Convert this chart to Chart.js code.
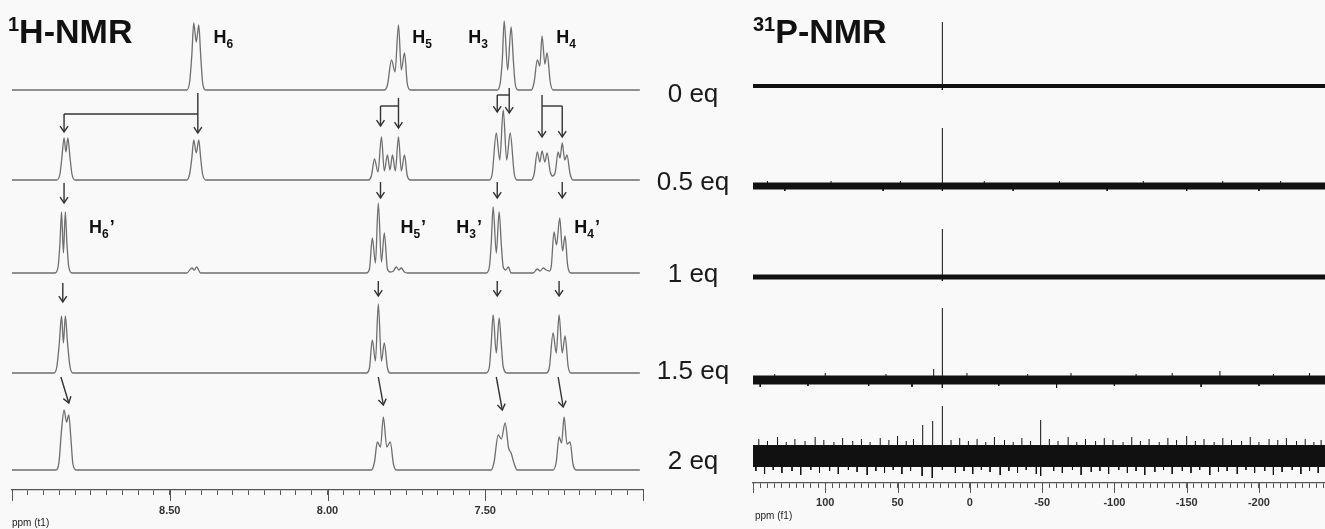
<!DOCTYPE html>
<html>
<head>
<meta charset="utf-8">
<script src="https://cdn.jsdelivr.net/npm/chart.js@4.4.1/dist/chart.umd.min.js"></script>
<style>
  html, body { margin: 0; padding: 0; background: #f9f9f9; overflow: hidden; }
  #wrap { position: relative; width: 1325px; height: 529px; overflow: hidden; }
  #hnmr { position: absolute; left: 0; top: 0; }
  #pnmr { position: absolute; left: 740px; top: 0; }
</style>
</head>
<body>
<div id="wrap">
  <canvas id="hnmr" width="740" height="529"></canvas>
  <canvas id="pnmr" width="592" height="529"></canvas>
</div>
<script>
// =========================
// DATA
// =========================
const eqLabels = ['0 eq', '0.5 eq', '1 eq', '1.5 eq', '2 eq'];
const hTickLabels = [8.5, 8.0, 7.5];
const pTickLabels = [100, 50, 0, -50, -100, -150, -200];

// 1H spectra, [ppm, intensity]
const h0eq = [
  [9.00, 0],
  [8.446, 0], [8.437, 8], [8.430, 35], [8.424, 67], [8.416, 48], [8.408, 65], [8.402, 35], [8.396, 8], [8.386, 0],
  [7.820, 0], [7.810, 5], [7.797, 30], [7.786, 18], [7.775, 65], [7.766, 20], [7.756, 37], [7.747, 6], [7.737, 0],
  [7.462, 0], [7.453, 6], [7.446, 30], [7.440, 69], [7.429, 20], [7.418, 63], [7.411, 30], [7.405, 6], [7.396, 0],
  [7.354, 0], [7.345, 8], [7.335, 30], [7.327, 24], [7.320, 54], [7.311, 26], [7.304, 37], [7.294, 8], [7.285, 0],
  [7.01, 0]
];
const h05eq = [
  [9.00, 0],
  [8.858, 0], [8.848, 6], [8.842, 22], [8.835, 42], [8.829, 28], [8.823, 42], [8.816, 22], [8.810, 6], [8.801, 0],
  [8.446, 0], [8.437, 6], [8.430, 22], [8.424, 40], [8.416, 27], [8.408, 40], [8.402, 22], [8.396, 6], [8.386, 0],
  [7.870, 0], [7.861, 4], [7.851, 21], [7.840, 8], [7.829, 43], [7.820, 9], [7.810, 25], [7.802, 10], [7.794, 25],
  [7.785, 9], [7.775, 43], [7.766, 9], [7.756, 25], [7.747, 4], [7.737, 0],
  [7.487, 0], [7.478, 6], [7.465, 47], [7.454, 20], [7.443, 70], [7.432, 20], [7.421, 47], [7.408, 6], [7.399, 0],
  [7.354, 0], [7.345, 6], [7.335, 28], [7.327, 18], [7.320, 29], [7.311, 18], [7.304, 27], [7.294, 8], [7.287, 4],
  [7.278, 8], [7.269, 28], [7.263, 22], [7.256, 37], [7.248, 20], [7.241, 25], [7.231, 6], [7.222, 0],
  [7.01, 0]
];
const h1eq = [
  [9.00, 0],
  [8.864, 0], [8.854, 6], [8.848, 30], [8.843, 61], [8.837, 20], [8.831, 61], [8.826, 30], [8.820, 6], [8.810, 0],
  [8.446, 0], [8.430, 5], [8.422, 3], [8.415, 6], [8.402, 0],
  [7.877, 0], [7.867, 4], [7.858, 35], [7.848, 10], [7.839, 70], [7.829, 11], [7.820, 40], [7.810, 4], [7.801, 1],
  [7.791, 2], [7.782, 6], [7.774, 3], [7.766, 5], [7.756, 1], [7.747, 0],
  [7.497, 0], [7.487, 6], [7.481, 30], [7.475, 66], [7.465, 20], [7.456, 61], [7.449, 28], [7.443, 6], [7.435, 3],
  [7.427, 6], [7.418, 0],
  [7.348, 0], [7.335, 4], [7.326, 2], [7.316, 5], [7.307, 3], [7.297, 2], [7.291, 6], [7.282, 41], [7.274, 28],
  [7.264, 55], [7.255, 22], [7.247, 37], [7.239, 8], [7.228, 0],
  [7.01, 0]
];
const h15eq = [
  [9.00, 0],
  [8.867, 0], [8.858, 6], [8.850, 30], [8.843, 57], [8.837, 30], [8.831, 57], [8.824, 30], [8.816, 6], [8.807, 0],
  [7.877, 0], [7.867, 5], [7.858, 33], [7.848, 12], [7.839, 69], [7.829, 12], [7.820, 30], [7.810, 5], [7.801, 0],
  [7.497, 0], [7.487, 6], [7.481, 30], [7.475, 58], [7.465, 20], [7.456, 55], [7.449, 28], [7.443, 6], [7.430, 0],
  [7.307, 0], [7.297, 5], [7.285, 40], [7.275, 20], [7.266, 58], [7.256, 20], [7.247, 37], [7.237, 6], [7.228, 0],
  [7.01, 0]
];
const h2eq = [
  [9.00, 0],
  [8.861, 0], [8.851, 8], [8.843, 40], [8.835, 60], [8.827, 48], [8.820, 55], [8.813, 30], [8.807, 6], [8.797, 0],
  [7.861, 0], [7.851, 8], [7.842, 28], [7.832, 23], [7.823, 53], [7.812, 23], [7.801, 28], [7.791, 6], [7.782, 0],
  [7.481, 0], [7.472, 8], [7.459, 35], [7.449, 31], [7.437, 47], [7.426, 22], [7.418, 17], [7.408, 6], [7.399, 0],
  [7.285, 0], [7.275, 8], [7.266, 33], [7.258, 27], [7.250, 53], [7.241, 26], [7.231, 28], [7.222, 6], [7.212, 0],
  [7.01, 0]
];

// 31P spectra: noise band half height, spikes up / down as [ppm, height]
const pNoise = [2, 3.5, 2.5, 4.5, 11];
const p0Up = [[19, 64]];
const p0Down = [[19, 4]];
const p05Up = [[140, 5], [96, 5], [48, 5], [19, 58], [-10, 5], [-62, 5], [-120, 5], [-175, 5], [-215, 5]];
const p05Down = [[128, 5], [60, 5], [19, 5], [-30, 5], [-95, 5], [-150, 5], [-200, 5]];
const p1Up = [[19, 48]];
const p1Down = [[19, 4]];
const p15Up = [[135, 6], [100, 7], [58, 6], [25, 11], [19, 72], [2, 7], [-40, 6], [-70, 7], [-115, 6], [-140, 7],
  [-173, 9], [-210, 6], [-235, 7]];
const p15Down = [[145, 7], [112, 6], [70, 6], [40, 7], [19, 8], [-20, 6], [-60, 8], [-100, 6], [-160, 7], [-200, 6]];
const p2Up = [[146, 17], [140, 15], [133, 19], [127, 14], [121, 17], [114, 15], [107, 19], [101, 16], [94, 14],
  [88, 18], [81, 15], [75, 17], [69, 14], [62, 18], [56, 16], [50, 20], [44, 15], [39, 17], [32.6, 31], [25.7, 35],
  [19, 50], [13, 16], [7, 18], [1, 15], [-5, 17], [-11, 14], [-17, 19], [-24, 16], [-30, 14], [-36, 18], [-42, 15],
  [-49, 36], [-55, 17], [-61, 15], [-68, 19], [-74, 14], [-80, 17], [-87, 15], [-93, 18], [-99, 16], [-106, 14],
  [-112, 19], [-118, 15], [-124, 17], [-131, 14], [-137, 18], [-143, 16], [-150, 20], [-156, 15], [-162, 17],
  [-169, 14], [-175, 18], [-181, 16], [-188, 15], [-194, 19], [-200, 14], [-207, 17], [-213, 16], [-219, 18],
  [-226, 15], [-232, 17], [-238, 14], [-243, 16]];
const p2Down = [[148, 15], [142, 18], [136, 14], [130, 17], [123, 15], [117, 19], [110, 14], [104, 17], [97, 15],
  [91, 18], [84, 14], [78, 16], [71, 19], [65, 15], [59, 17], [53, 14], [47, 18], [41, 15], [33, 20], [26, 22],
  [19, 14], [10, 17], [4, 15], [-2, 18], [-8, 14], [-14, 16], [-21, 19], [-27, 15], [-33, 17], [-39, 14], [-46, 18],
  [-49, 20], [-58, 15], [-64, 17], [-71, 14], [-77, 19], [-84, 16], [-90, 15], [-96, 18], [-103, 14], [-109, 17],
  [-115, 15], [-121, 19], [-128, 16], [-134, 14], [-140, 18], [-147, 15], [-153, 17], [-159, 14], [-166, 19],
  [-172, 16], [-178, 15], [-185, 18], [-191, 14], [-197, 17], [-204, 15], [-210, 19], [-216, 16], [-223, 14],
  [-229, 18], [-235, 15], [-241, 17]];

// =========================
// LAYOUT (stack levels, annotation places)
// =========================
const hLevels = [400, 310, 217, 117, 20];   // baseline of each 1H trace on the y scale
const pLevels = [397, 297, 206, 103, 27];   // baseline of each 31P trace
const eqLabelLevel = [395, 307, 215, 118, 28];

// [sub, prime, ppm (left edge), level (baseline)]
const hPeakLabels = [
  ['6', false, 8.361, 447], ['5', false, 7.731, 447], ['3', false, 7.554, 447], ['4', false, 7.275, 447],
  ['6', true, 8.756, 257], ['5', true, 7.769, 257], ['3', true, 7.592, 257], ['4', true, 7.218, 257]
];

// [ppm1, level1, ppm2, level2, arrowhead]
const hArrows = [
  [8.411, 397, 8.411, 357, 1], [8.411, 376, 8.835, 376, 0], [8.835, 376, 8.835, 358, 1],
  [7.775, 392, 7.775, 362, 1], [7.775, 384, 7.832, 384, 0], [7.832, 384, 7.832, 364, 1],
  [7.424, 402, 7.424, 377, 1], [7.424, 395, 7.462, 395, 0], [7.462, 395, 7.462, 378, 1],
  [7.320, 395, 7.320, 353, 1], [7.320, 384, 7.256, 384, 0], [7.256, 384, 7.256, 353, 1],
  [8.835, 307, 8.835, 287, 1], [7.832, 308, 7.832, 292, 1], [7.462, 308, 7.462, 292, 1], [7.256, 308, 7.256, 292, 1],
  [8.839, 207, 8.839, 188, 1], [7.839, 209, 7.839, 194, 1], [7.462, 209, 7.462, 194, 1], [7.266, 209, 7.266, 194, 1],
  [8.845, 113, 8.820, 87, 1], [7.839, 113, 7.823, 85, 1], [7.465, 113, 7.446, 80, 1], [7.269, 113, 7.253, 83, 1]
];

const FONT = '"Liberation Sans", Arial, sans-serif';
const NARROW = '"Liberation Sans Narrow", "Arial Narrow", "Liberation Sans", sans-serif';

// =========================
// HELPERS
// =========================
function drawArrow(ctx, x1, y1, x2, y2, head) {
    ctx.beginPath();
    ctx.moveTo(x1, y1);
    ctx.lineTo(x2, y2);
    ctx.stroke();
    if (!head) return;
    const a = Math.atan2(y2 - y1, x2 - x1), s = 7, w = 0.6;
    ctx.beginPath();
    ctx.moveTo(x2 - s * Math.cos(a - w), y2 - s * Math.sin(a - w));
    ctx.lineTo(x2, y2);
    ctx.lineTo(x2 - s * Math.cos(a + w), y2 - s * Math.sin(a + w));
    ctx.stroke();
}

function drawTitle(ctx, x, sup, main) {
    ctx.fillStyle = '#111';
    ctx.textAlign = 'left';
    ctx.textBaseline = 'alphabetic';
    ctx.font = 'bold 20px ' + FONT;
    ctx.fillText(sup, x, 31);
    const w = ctx.measureText(sup).width;
    ctx.font = 'bold 34px ' + FONT;
    ctx.fillText(main, x + w, 43);
}

function majorTicks(ctx, scale, values, len) {
    ctx.save();
    ctx.strokeStyle = '#555';
    ctx.lineWidth = 1;
    values.forEach(v => {
        const px = Math.round(scale.getPixelForValue(v)) + 0.5;
        ctx.beginPath();
        ctx.moveTo(px, scale.top);
        ctx.lineTo(px, scale.top + len);
        ctx.stroke();
    });
    ctx.restore();
}

// =========================
// 1H-NMR CHART
// =========================
const hSpectra = [h0eq, h05eq, h1eq, h15eq, h2eq];
const hTicksAll = [];
for (let i = 0; i <= 40; i++) hTicksAll.push(+(9 - i * 0.05).toFixed(2));

const hAnnot = {
    id: 'hAnnot',
    afterDraw(chart) {
        const { ctx, scales: { x, y } } = chart;
        majorTicks(ctx, x, [9.0, ...hTickLabels, 7.0], 11);

        ctx.save();
        ctx.fillStyle = '#222';
        ctx.font = '10px ' + NARROW;
        ctx.textBaseline = 'middle';
        ctx.fillText('ppm (t1)', 12, 523);

        drawTitle(ctx, 8, '1', 'H-NMR');

        // peak labels
        hPeakLabels.forEach(([sub, prime, ppm, lvl]) => {
            const px = x.getPixelForValue(ppm), py = y.getPixelForValue(lvl);
            ctx.textBaseline = 'alphabetic';
            ctx.font = 'bold 18px ' + FONT;
            ctx.fillText('H', px, py);
            let w = ctx.measureText('H').width;
            ctx.font = 'bold 12px ' + FONT;
            ctx.fillText(sub, px + w, py + 5);
            w += ctx.measureText(sub).width;
            if (prime) {
                ctx.font = 'bold 18px ' + FONT;
                ctx.fillText('\u2019', px + w + 1, py);
            }
        });

        // arrows
        ctx.strokeStyle = '#333';
        ctx.lineWidth = 1.4;
        hArrows.forEach(([p1, l1, p2, l2, head]) => {
            drawArrow(ctx, x.getPixelForValue(p1), y.getPixelForValue(l1),
                x.getPixelForValue(p2), y.getPixelForValue(l2), head);
        });

        // titration labels
        ctx.fillStyle = '#1a1a1a';
        ctx.font = '26px ' + FONT;
        ctx.textAlign = 'center';
        ctx.textBaseline = 'middle';
        eqLabels.forEach((t, i) => ctx.fillText(t, 693, y.getPixelForValue(eqLabelLevel[i])));
        ctx.restore();
    }
};

new Chart(document.getElementById('hnmr'), {
    type: 'line',
    data: {
        datasets: hSpectra.map((spec, i) => ({
            label: eqLabels[i],
            data: spec.map(([p, v]) => ({ x: p, y: v + hLevels[i] })),
            borderColor: '#6e6e6e',
            borderWidth: 1.3,
            pointRadius: 0,
            cubicInterpolationMode: 'monotone',
            fill: false
        }))
    },
    options: {
        responsive: false,
        animation: false,
        devicePixelRatio: 1,
        layout: { padding: { left: 12, right: 97, top: 0, bottom: 0 } },
        plugins: { legend: { display: false }, tooltip: { enabled: false } },
        scales: {
            x: {
                type: 'linear',
                reverse: true,
                min: 7.0,
                max: 9.0,
                afterBuildTicks: scale => { scale.ticks = hTicksAll.map(v => ({ value: v })); },
                afterFit: scale => { scale.height = 39; },
                ticks: {
                    autoSkip: false,
                    maxRotation: 0,
                    padding: 9,
                    color: '#333',
                    font: { family: NARROW, size: 11, weight: 'bold' },
                    callback: v => hTickLabels.includes(+v.toFixed(2)) ? v.toFixed(2) : ''
                },
                grid: { drawOnChartArea: false, drawTicks: true, tickLength: 5, color: '#555', lineWidth: 1 },
                border: { display: true, color: '#555', width: 1.3 }
            },
            y: { display: false, min: 0, max: 490 }
        }
    },
    plugins: [hAnnot]
});

// =========================
// 31P-NMR CHART
// =========================
const pUps = [p0Up, p05Up, p1Up, p15Up, p2Up];
const pDowns = [p0Down, p05Down, p1Down, p15Down, p2Down];
const pTicksAll = [];
for (let v = 150; v >= -245; v -= 5) pTicksAll.push(v);

const pDatasets = [];
pLevels.forEach((lvl, i) => {
    pDatasets.push({
        data: [{ x: 150, y: lvl }, { x: -246, y: lvl }],
        borderColor: '#111',
        borderWidth: pNoise[i] * 2,
        borderCapStyle: 'butt',
        pointRadius: 0
    });
    const spikes = [];
    pUps[i].forEach(([p, h]) => spikes.push({ x: p, y: lvl }, { x: p, y: lvl + h }, { x: p, y: null }));
    pDowns[i].forEach(([p, h]) => spikes.push({ x: p, y: lvl }, { x: p, y: lvl - h }, { x: p, y: null }));
    pDatasets.push({
        data: spikes,
        borderColor: '#111',
        borderWidth: 1,
        pointRadius: 0,
        spanGaps: false
    });
});

const pAnnot = {
    id: 'pAnnot',
    afterDraw(chart) {
        const { ctx, scales: { x } } = chart;
        majorTicks(ctx, x, [150, ...pTickLabels], 10);
        ctx.save();
        ctx.fillStyle = '#222';
        ctx.font = '10px ' + NARROW;
        ctx.textBaseline = 'middle';
        ctx.fillText('ppm (f1)', 15, 516);
        drawTitle(ctx, 13, '31', 'P-NMR');
        ctx.restore();
    }
};

new Chart(document.getElementById('pnmr'), {
    type: 'line',
    data: { datasets: pDatasets },
    options: {
        responsive: false,
        animation: false,
        devicePixelRatio: 1,
        layout: { padding: { left: 13, right: 0, top: 0, bottom: 0 } },
        plugins: { legend: { display: false }, tooltip: { enabled: false } },
        scales: {
            x: {
                type: 'linear',
                reverse: true,
                min: -246,
                max: 150,
                afterBuildTicks: scale => { scale.ticks = pTicksAll.map(v => ({ value: v })); },
                afterFit: scale => { scale.height = 46; },
                ticks: {
                    autoSkip: false,
                    maxRotation: 0,
                    padding: 8,
                    color: '#333',
                    font: { family: NARROW, size: 11, weight: 'bold' },
                    callback: v => pTickLabels.includes(v) ? String(v) : ''
                },
                grid: { drawOnChartArea: false, drawTicks: true, tickLength: 5, color: '#555', lineWidth: 1 },
                border: { display: true, color: '#555', width: 1.3 }
            },
            y: { display: false, min: 0, max: 483 }
        }
    },
    plugins: [pAnnot]
});
</script>
</body>
</html>
